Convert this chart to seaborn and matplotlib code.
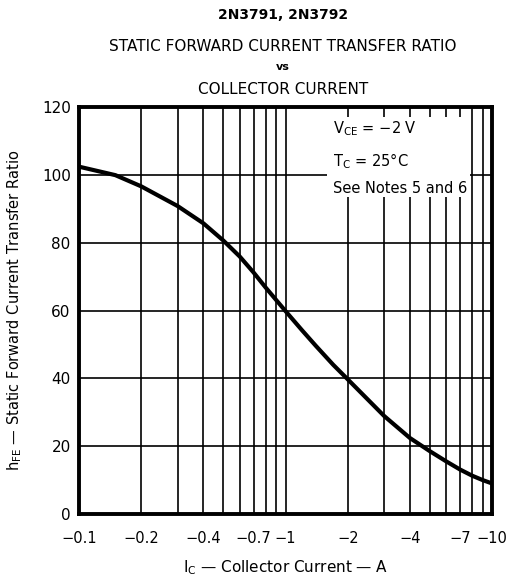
import numpy as np
import pandas as pd
import matplotlib
matplotlib.use("Agg")
import matplotlib.pyplot as plt
from matplotlib.patches import Rectangle
import seaborn as sns

# Data (|I_C| in A, hFE)
ic_mag = [0.1, 0.15, 0.2, 0.3, 0.4, 0.5, 0.6, 0.7, 0.8, 0.9, 1.0, 1.2, 1.4, 1.7, 2.0, 3.0, 4.0, 5.0, 6.0, 7.0, 8.0, 9.0, 10.0]
hfe = [102.4, 99.9, 96.6, 90.8, 85.7, 80.6, 75.9, 71.2, 66.8, 63.1, 59.8, 54.2, 49.6, 44.0, 39.7, 28.9, 22.4, 18.5, 15.5, 13.1, 11.3, 10.0, 9.0]

grid_x = [0.1, 0.2, 0.3, 0.4, 0.5, 0.6, 0.7, 0.8, 0.9, 1, 2, 3, 4, 5, 6, 7, 8, 9, 10]
xlabel_map = {0.1: "\u22120.1", 0.2: "\u22120.2", 0.4: "\u22120.4", 0.7: "\u22120.7",
              1: "\u22121", 2: "\u22122", 4: "\u22124", 7: "\u22127", 10: "\u221210"}
yticks = [0, 20, 40, 60, 80, 100, 120]

sns.set_theme(style="white")
plt.rcParams['font.family'] = ['DejaVu Sans']
plt.rcParams['text.color'] = 'black'
plt.rcParams['axes.labelcolor'] = 'black'
plt.rcParams['xtick.color'] = 'black'
plt.rcParams['ytick.color'] = 'black'

df = pd.DataFrame({"ic": ic_mag, "hfe": hfe})

fig = plt.figure(figsize=(5.10, 5.78), dpi=100)
ax = fig.add_axes([0.155, 0.1107, 0.81, 0.7042])

sns.lineplot(data=df, x="ic", y="hfe", ax=ax, color="black", linewidth=3.0, zorder=5)
ax.set_xscale("log")
ax.set_xlim(0.1, 10)
ax.set_ylim(0, 120)

ax.set_xticks(grid_x)
ax.set_xticks([], minor=True)
ax.set_xticklabels([xlabel_map.get(v, "") for v in grid_x], fontsize=10.5)
ax.set_yticks(yticks)
ax.set_yticklabels([str(v) for v in yticks], fontsize=11)
ax.tick_params(axis="x", length=0, pad=12, colors="black")
ax.tick_params(axis="y", length=0, pad=6, colors="black")

ax.grid(True, which="major", color="black", linewidth=1.2)
ax.set_axisbelow(True)
for s in ax.spines.values():
    s.set_color("black")
    s.set_linewidth(2.8)

ax.set_xlabel("I$_\\mathregular{C}$ \u2014 Collector Current \u2014 A", fontsize=11, labelpad=9)
ax.set_ylabel("h$_\\mathregular{FE}$ \u2014 Static Forward Current Transfer Ratio", fontsize=10.5, labelpad=13)

# white panel behind the conditions note
ax.add_patch(Rectangle((0.600, 0.779), 0.347, 0.196, transform=ax.transAxes,
                       facecolor="white", edgecolor="none", zorder=3))
ax.text(0.615, 0.948, "V$_\\mathregular{CE}$ = \u22122 V", transform=ax.transAxes,
        ha="left", va="center", fontsize=10.5, zorder=4)
ax.text(0.615, 0.867, "T$_\\mathregular{C}$ = 25\u00b0C", transform=ax.transAxes,
        ha="left", va="center", fontsize=10.5, zorder=4)
ax.text(0.615, 0.799, "See Notes 5 and 6", transform=ax.transAxes,
        ha="left", va="center", fontsize=10.5, zorder=4)

cx = 0.555
fig.text(cx, 0.974, "2N3791, 2N3792", ha="center", va="center", fontsize=10, fontweight="bold")
fig.text(cx, 0.920, "STATIC FORWARD CURRENT TRANSFER RATIO", ha="center", va="center", fontsize=11)
fig.text(cx, 0.884, "vs", ha="center", va="center", fontsize=8, fontweight="bold")
fig.text(cx, 0.845, "COLLECTOR CURRENT", ha="center", va="center", fontsize=11)

fig.savefig("out.png", dpi=100, facecolor="white")
